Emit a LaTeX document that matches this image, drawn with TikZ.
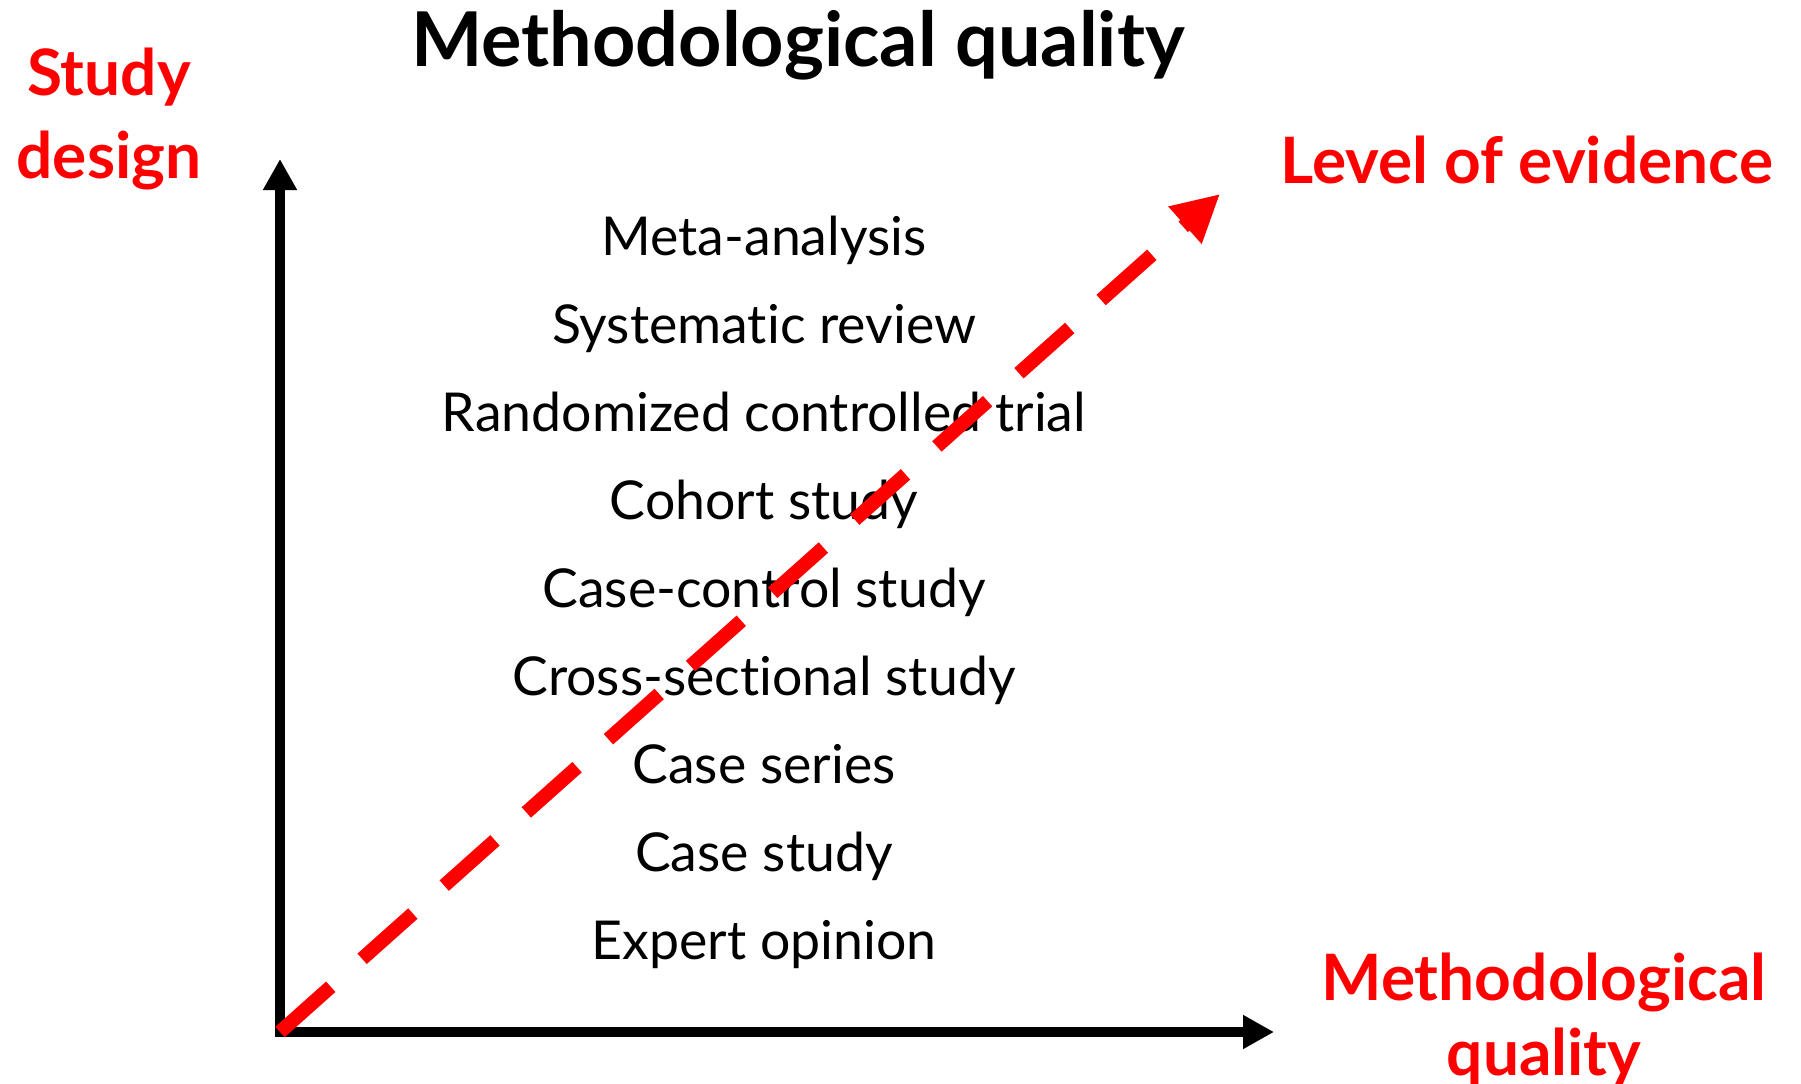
\documentclass[tikz,border=0pt]{standalone}
\usepackage{fontspec}
\setmainfont{Lato}[Ligatures={NoCommon,NoContextual}]
\usetikzlibrary{arrows.meta}

\tikzset{
    study/.style={anchor=base, font=\fontsize{26.8}{32}\selectfont},
    redlabel/.style={anchor=base, align=center, text=red, font=\bfseries\fontsize{32}{41.5}\selectfont},
    axis/.style={line width=5pt, line cap=rect, -{Triangle[length=15.5pt, width=16pt]}},
}

\begin{document}
\begin{tikzpicture}[x=0.5pt, y=-0.5pt]
    \useasboundingbox (0, 0) rectangle (1801, 1083);

    \node (title) [anchor=base, font=\bfseries\fontsize{37.8}{44}\selectfont] at (798, 66) {Methodological quality};
    \node (design) [redlabel] at (109, 178) {Study\\design};
    \node (evidence) [redlabel] at (1527, 183) {Level of evidence};
    \node (quality) [redlabel, font=\bfseries\fontsize{32}{37.5}\selectfont] at (1544, 1075) {Methodological\\quality};

    \node (meta) [study] at (764, 255) {Meta-analysis};
    \node (sysrev) [study] at (764, 343) {Systematic review};
    \node (rct) [study] at (764, 431) {Randomized controlled trial};
    \node (cohort) [study] at (764, 519) {Cohort study};
    \node (casectrl) [study] at (764, 607) {Case-control study};
    \node (crosssec) [study] at (764, 695) {Cross-sectional study};
    \node (series) [study] at (764, 783) {Case series};
    \node (casestudy) [study] at (764, 871) {Case study};
    \node (expert) [study] at (764, 959) {Expert opinion};

    \coordinate (origin) at (280, 1032);
    \coordinate (ytip) at (280, 159);
    \coordinate (xtip) at (1274, 1032);
    \coordinate (etip) at (1220, 194);

    \draw[axis] (origin) -- (ytip);
    \draw[axis] (origin) -- (xtip);
    \draw[red, line width=7pt, dash pattern=on 34pt off 21pt, -{Triangle[length=23.5pt, width=23.5pt]}] (origin) -- (etip);
\end{tikzpicture}
\end{document}
